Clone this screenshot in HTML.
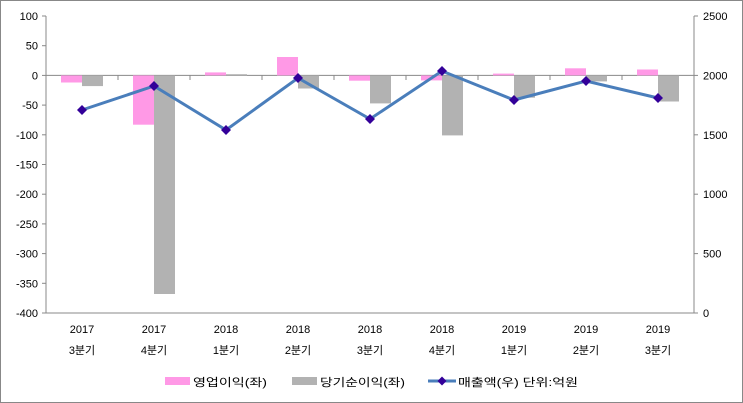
<!DOCTYPE html>
<html><head><meta charset="utf-8"><style>body{margin:0;background:#fff}svg{display:block}text{font-family:"Liberation Sans","Noto Sans CJK KR",sans-serif;font-size:11px;fill:#000}</style></head>
<body>
<svg width="743" height="403" xmlns="http://www.w3.org/2000/svg">
<rect x="0.5" y="0.5" width="742" height="402" fill="#fff" stroke="#888"/>
<g id="grid">
<line x1="46" y1="16" x2="46" y2="313" stroke="#888"/>
<line x1="694" y1="16" x2="694" y2="313" stroke="#888"/>
<line x1="46" y1="313" x2="694" y2="313" stroke="#888"/>
<line x1="46" y1="75.4" x2="694" y2="75.4" stroke="#888"/>
</g>
<g stroke="#888">
<line x1="42" y1="16" x2="46" y2="16"/><line x1="42" y1="45.7" x2="46" y2="45.7"/><line x1="42" y1="75.4" x2="46" y2="75.4"/><line x1="42" y1="105.1" x2="46" y2="105.1"/><line x1="42" y1="134.8" x2="46" y2="134.8"/><line x1="42" y1="164.5" x2="46" y2="164.5"/><line x1="42" y1="194.2" x2="46" y2="194.2"/><line x1="42" y1="223.9" x2="46" y2="223.9"/><line x1="42" y1="253.6" x2="46" y2="253.6"/><line x1="42" y1="283.3" x2="46" y2="283.3"/><line x1="42" y1="313" x2="46" y2="313"/>
<line x1="694" y1="16" x2="698" y2="16"/><line x1="694" y1="75.4" x2="698" y2="75.4"/><line x1="694" y1="134.8" x2="698" y2="134.8"/><line x1="694" y1="194.2" x2="698" y2="194.2"/><line x1="694" y1="253.6" x2="698" y2="253.6"/><line x1="694" y1="313" x2="698" y2="313"/>
<line x1="118" y1="75" x2="118" y2="80"/><line x1="190" y1="75" x2="190" y2="80"/><line x1="262" y1="75" x2="262" y2="80"/><line x1="334" y1="75" x2="334" y2="80"/><line x1="406" y1="75" x2="406" y2="80"/><line x1="478" y1="75" x2="478" y2="80"/><line x1="550" y1="75" x2="550" y2="80"/><line x1="622" y1="75" x2="622" y2="80"/>
</g>
<g text-anchor="end">
<text x="38" y="20">100</text><text x="38" y="49.7">50</text><text x="38" y="79.4">0</text><text x="38" y="109">-50</text><text x="38" y="138.8">-100</text><text x="38" y="168.5">-150</text><text x="38" y="198.2">-200</text><text x="38" y="227.9">-250</text><text x="38" y="257.6">-300</text><text x="38" y="287.3">-350</text><text x="38" y="317">-400</text>
</g>
<g text-anchor="start">
<text x="703" y="20">2500</text><text x="703" y="79.4">2000</text><text x="703" y="138.8">1500</text><text x="703" y="198.2">1000</text><text x="703" y="257.6">500</text><text x="703" y="317">0</text>
</g>
<g fill="#ff99e6">
<rect x="61" y="75.4" width="21" height="7.1"/>
<rect x="133" y="75.4" width="21" height="49.3"/>
<rect x="205" y="72.4" width="21" height="3"/>
<rect x="277" y="57" width="21" height="18.4"/>
<rect x="349" y="75.4" width="21" height="5.3"/>
<rect x="421" y="75.4" width="21" height="5"/>
<rect x="493" y="73.6" width="21" height="1.8"/>
<rect x="565" y="68.3" width="21" height="7.1"/>
<rect x="637" y="69.5" width="21" height="5.9"/>
</g>
<g fill="#b2b2b2">
<rect x="82" y="75.4" width="21" height="10.7"/>
<rect x="154" y="75.4" width="21" height="218.6"/>
<rect x="226" y="74.2" width="21" height="1.2"/>
<rect x="298" y="75.4" width="21" height="13.1"/>
<rect x="370" y="75.4" width="21" height="28"/>
<rect x="442" y="75.4" width="21" height="60"/>
<rect x="514" y="75.4" width="21" height="22.3"/>
<rect x="586" y="75.4" width="21" height="6"/>
<rect x="658" y="75.4" width="21" height="26.1"/>
</g>
<polyline fill="none" stroke="#4a7ebb" stroke-width="3" points="82,110 154,86 226,130 298,78 370,119 442,71 514,100 586,81 658,98"/>
<g fill="#330099">
<path d="M82,105 l5,5 l-5,5 l-5,-5z"/><path d="M154,81 l5,5 l-5,5 l-5,-5z"/><path d="M226,125 l5,5 l-5,5 l-5,-5z"/><path d="M298,73 l5,5 l-5,5 l-5,-5z"/><path d="M370,114 l5,5 l-5,5 l-5,-5z"/><path d="M442,66 l5,5 l-5,5 l-5,-5z"/><path d="M514,95 l5,5 l-5,5 l-5,-5z"/><path d="M586,76 l5,5 l-5,5 l-5,-5z"/><path d="M658,93 l5,5 l-5,5 l-5,-5z"/>
</g>
<g text-anchor="middle">
<text x="82" y="333">2017</text><text x="82" y="354" font-size="12">3분기</text>
<text x="154" y="333">2017</text><text x="154" y="354" font-size="12">4분기</text>
<text x="226" y="333">2018</text><text x="226" y="354" font-size="12">1분기</text>
<text x="298" y="333">2018</text><text x="298" y="354" font-size="12">2분기</text>
<text x="370" y="333">2018</text><text x="370" y="354" font-size="12">3분기</text>
<text x="442" y="333">2018</text><text x="442" y="354" font-size="12">4분기</text>
<text x="514" y="333">2019</text><text x="514" y="354" font-size="12">1분기</text>
<text x="586" y="333">2019</text><text x="586" y="354" font-size="12">2분기</text>
<text x="658" y="333">2019</text><text x="658" y="354" font-size="12">3분기</text>
</g>
<rect x="165" y="377" width="25" height="8" fill="#ff99e6"/>
<text x="193" y="386" font-size="12" textLength="74" lengthAdjust="spacingAndGlyphs">영업이익(좌)</text>
<rect x="292" y="377" width="25" height="8" fill="#b2b2b2"/>
<text x="320" y="386" font-size="12" textLength="85" lengthAdjust="spacingAndGlyphs">당기순이익(좌)</text>
<line x1="428" y1="381" x2="456" y2="381" stroke="#4a7ebb" stroke-width="3"/>
<path d="M442,376.5 l4.5,4.5 l-4.5,4.5 l-4.5,-4.5z" fill="#330099"/>
<text x="458" y="386" font-size="12" textLength="120" lengthAdjust="spacingAndGlyphs">매출액(우)  단위:억원</text>
</svg>
</body></html>
